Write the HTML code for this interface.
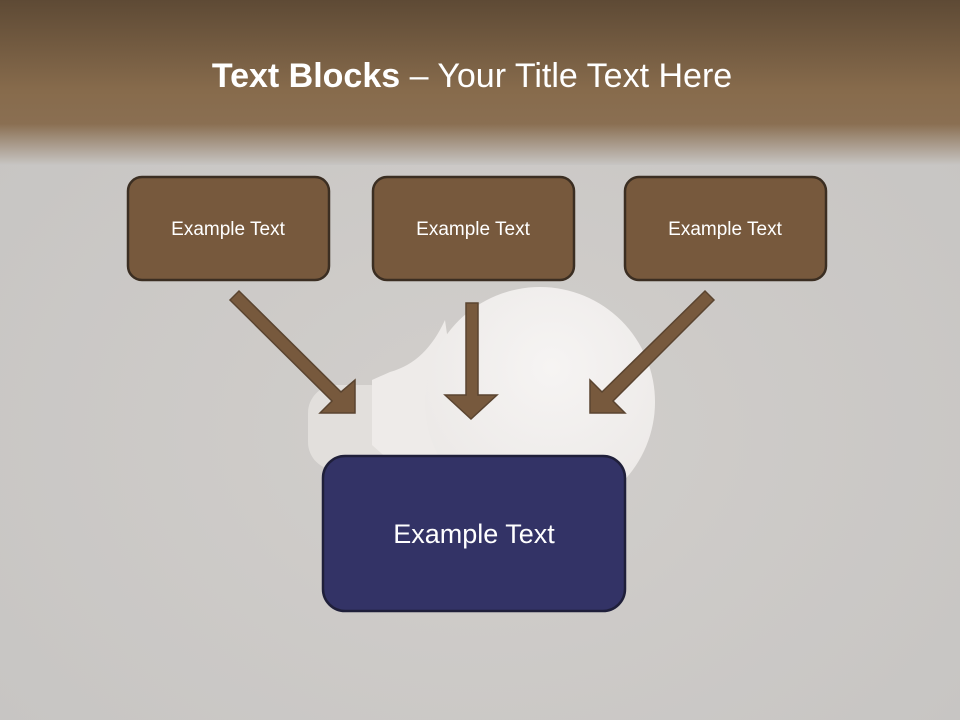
<!DOCTYPE html>
<html><head><meta charset="utf-8"><style>
html,body{margin:0;padding:0}
body{width:960px;height:720px;overflow:hidden;font-family:"Liberation Sans",sans-serif}
</style></head><body>
<svg width="960" height="720" viewBox="0 0 960 720" xmlns="http://www.w3.org/2000/svg">
<defs>
<linearGradient id="top" x1="0" y1="0" x2="0" y2="1">
<stop offset="0" stop-color="#5e4a35"/>
<stop offset="0.55" stop-color="#876b4c"/>
<stop offset="0.75" stop-color="#8a6f52"/>
<stop offset="1" stop-color="#c7c5c3"/>
</linearGradient>
<radialGradient id="bg" cx="0.5" cy="0.6" r="0.7">
<stop offset="0" stop-color="#d2cfcc"/>
<stop offset="1" stop-color="#c6c4c2"/>
</radialGradient>
<radialGradient id="bulb" cx="0.55" cy="0.35" r="0.7">
<stop offset="0" stop-color="#f6f4f3"/>
<stop offset="1" stop-color="#ebe8e6"/>
</radialGradient>
</defs>
<rect width="960" height="720" fill="url(#bg)"/>
<rect width="960" height="165" fill="url(#top)"/>
<!-- bulb -->
<rect x="308" y="385" width="90" height="85" rx="28" fill="#e2dfdc"/>
<path d="M445 320 C432 348 415 365 390 372 L372 380 L372 445 L400 470 L470 495 Z" fill="#eeebe9"/>
<circle cx="540" cy="402" r="115" fill="url(#bulb)"/>
<text x="472" y="87" text-anchor="middle" font-size="34" fill="#fff" font-family="Liberation Sans,sans-serif"><tspan font-weight="bold">Text Blocks</tspan> – Your Title Text Here</text>
<g stroke="#3b2e22" stroke-width="2.5" fill="#77593d">
<rect x="128" y="177" width="201" height="103" rx="14"/>
<rect x="373" y="177" width="201" height="103" rx="14"/>
<rect x="625" y="177" width="201" height="103" rx="14"/>
</g>
<g font-size="19" fill="#fff" text-anchor="middle">
<text x="228" y="235">Example Text</text>
<text x="473" y="235">Example Text</text>
<text x="725" y="235">Example Text</text>
</g>
<g fill="#77593d" stroke="#5a4430" stroke-width="1.5">
<polygon points="466,303 478,303 478,395 497,395 471,419 445,395 466,395"/>
<polygon points="230,300 239,291 341,392 355,380 355,413 320,413 332,401"/>
<polygon points="714,300 705,291 602,392 590,380 590,413 625,413 613,401"/>
</g>
<rect x="323" y="456" width="302" height="155" rx="22" fill="#333366" stroke="#1f1f3a" stroke-width="2.5"/>
<text x="474" y="543" text-anchor="middle" font-size="27" fill="#fff">Example Text</text>
</svg>
</body></html>
